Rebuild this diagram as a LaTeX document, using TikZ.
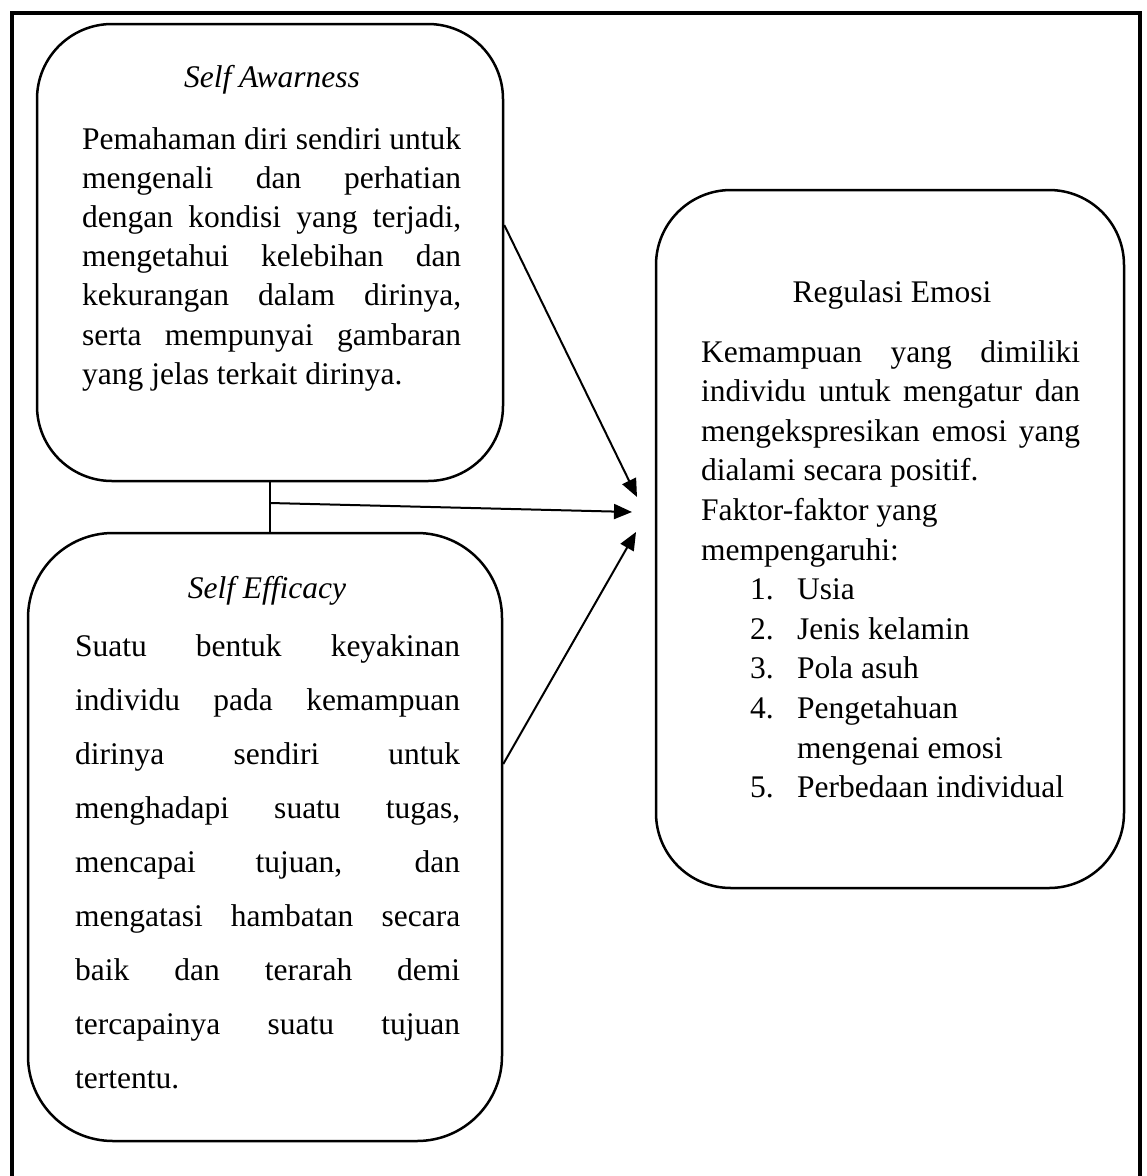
\documentclass[tikz,border=0pt]{standalone}
\usepackage{fontspec}
\setmainfont{Liberation Serif}
\usetikzlibrary{arrows.meta}
\newcommand\jl[1]{\makebox[\linewidth][s]{#1}\\}
\begin{document}
\begin{tikzpicture}[x=1pt,y=-1pt,
  roundbox/.style={draw, line width=2.5pt, inner sep=0pt},
  txt/.style={inner sep=0pt, anchor=base west},
  ttl/.style={inner sep=0pt, anchor=base, font=\fontsize{31.5pt}{38pt}\selectfont},
  conn/.style={line width=2pt},
  arr/.style={line width=2pt, -{Triangle[length=18pt,width=15pt]}}]
\useasboundingbox (0,0) rectangle (1147,1176);
% outer frame (bottom edge lies below the picture)
\draw[line width=4pt] (11.5,1200) -- (11.5,13) -- (1140,13) -- (1140,1200);

% boxes
\node[roundbox, rounded corners=75pt, minimum width=466pt, minimum height=457pt] (box1) at (270,252.5) {};
\node[roundbox, rounded corners=85pt, minimum width=474pt, minimum height=608pt] (box2) at (265,837) {};
\node[roundbox, rounded corners=75pt, minimum width=468pt, minimum height=698pt] (box3) at (890,539) {};

% box 1 text
\node[ttl] (t1) at (272,87) {\itshape Self Awarness};
\node[txt] (b1) at (82,149) {\parbox[t]{379pt}{\fontsize{31.5pt}{39.2pt}\selectfont
\jl{Pemahaman diri sendiri untuk}
\jl{mengenali dan perhatian}
\jl{dengan kondisi yang terjadi,}
\jl{mengetahui kelebihan dan}
\jl{kekurangan dalam dirinya,}
\jl{serta mempunyai gambaran}
yang jelas terkait dirinya.}};

% box 2 text
\node[ttl] (t2) at (267,598) {\itshape Self Efficacy};
\node[txt] (b2) at (75,656) {\parbox[t]{385pt}{\fontsize{31.5pt}{54pt}\selectfont
\jl{Suatu bentuk keyakinan}
\jl{individu pada kemampuan}
\jl{dirinya sendiri untuk}
\jl{menghadapi suatu tugas,}
\jl{mencapai tujuan, dan}
\jl{mengatasi hambatan secara}
\jl{baik dan terarah demi}
\jl{tercapainya suatu tujuan}
tertentu.}};

% box 3 text
\node[ttl] (t3) at (892,302) {Regulasi Emosi};
\node[txt] (b3) at (701,362) {\parbox[t]{379pt}{\fontsize{31.5pt}{39.6pt}\selectfont
\jl{Kemampuan yang dimiliki}
\jl{individu untuk mengatur dan}
\jl{mengekspresikan emosi yang}
dialami secara positif.\\
Faktor-faktor yang\\
mempengaruhi:\\
\hspace*{49pt}\makebox[47pt][l]{1.}Usia\\
\hspace*{49pt}\makebox[47pt][l]{2.}Jenis kelamin\\
\hspace*{49pt}\makebox[47pt][l]{3.}Pola asuh\\
\hspace*{49pt}\makebox[47pt][l]{4.}Pengetahuan\\
\hspace*{96pt}mengenai emosi\\
\hspace*{49pt}\makebox[47pt][l]{5.}Perbedaan individual}};

% connectors
\coordinate (s1) at (box1.east |- 0,225);
\coordinate (e1) at (637,497);
\coordinate (j) at (box1.south |- 0,503);
\coordinate (e2) at (632,512);
\coordinate (s3) at (box2.east |- 0,764);
\coordinate (e3) at (636,532);
\draw[conn] (box1.south) -- (box1.south |- box2.north);
\draw[arr] (s1) -- (e1);
\draw[arr] (j) -- (e2);
\draw[arr] (s3) -- (e3);
\end{tikzpicture}
\end{document}
